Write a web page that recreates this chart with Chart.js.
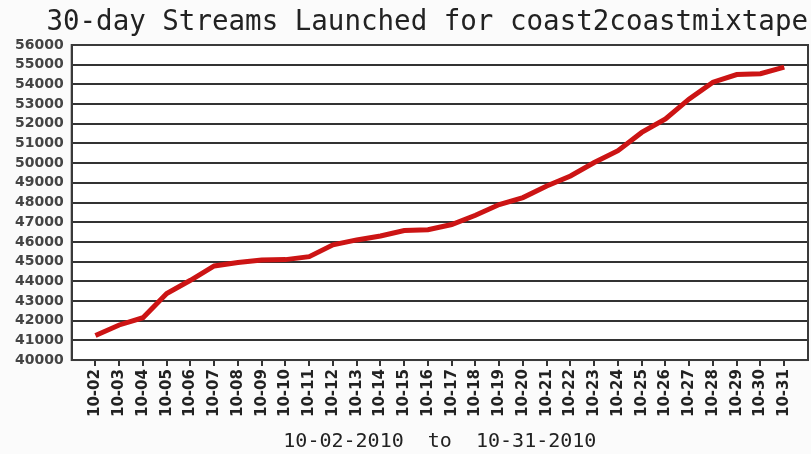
<!DOCTYPE html>
<html><head><meta charset="utf-8">
<script src="https://cdn.jsdelivr.net/npm/chart.js@4/dist/chart.umd.min.js"></script>
<style>html,body{margin:0;padding:0;background:#fbfbfb;} #wrap{width:811px;height:454px;}</style>
</head><body><div id="wrap"><canvas id="c" width="811" height="454"></canvas></div>
<script>
const titleText = '30-day Streams Launched for coast2coastmixtape';
const rangeText = '10-02-2010  to  10-31-2010';
const dates = ['10-02','10-03','10-04','10-05','10-06','10-07','10-08','10-09','10-10','10-11',
  '10-12','10-13','10-14','10-15','10-16','10-17','10-18','10-19','10-20','10-21',
  '10-22','10-23','10-24','10-25','10-26','10-27','10-28','10-29','10-30','10-31'];
const streams = [41250, 41780, 42150, 43380, 44050, 44780, 44950, 45080, 45100, 45250,
  45850, 46100, 46300, 46580, 46620, 46880, 47350, 47900, 48250, 48840,
  49350, 50030, 50630, 51560, 52240, 53260, 54110, 54500, 54540, 54880];
const yMin = 40000, yMax = 56000, yStep = 1000;

const frame = {
  id: 'frame',
  beforeDraw(chart) {
    const {ctx, chartArea: a} = chart;
    ctx.save();
    ctx.fillStyle = '#ffffff';
    ctx.fillRect(a.left, a.top, a.right - a.left, a.bottom - a.top);
    ctx.restore();
  },
  beforeDatasetsDraw(chart) {
    const {ctx, chartArea: a} = chart;
    ctx.save();
    ctx.strokeStyle = '#3a3a3a';
    ctx.lineWidth = 2;
    ctx.strokeRect(a.left, a.top, a.right - a.left, a.bottom - a.top);
    ctx.restore();
  }
};

new Chart(document.getElementById('c'), {
  type: 'line',
  data: {
    datasets: [{
      data: streams.map((v, i) => ({x: i, y: v})),
      borderColor: '#cc1414',
      borderWidth: 5,
      pointRadius: 0,
      tension: 0,
      fill: false
    }]
  },
  options: {
    responsive: false,
    animation: false,
    layout: {padding: {left: 7, right: 3, top: 6, bottom: 0}},
    plugins: {
      legend: {display: false},
      tooltip: {enabled: false},
      title: {
        display: true, text: titleText, align: 'end', color: '#222',
        font: {family: 'DejaVu Sans Mono', size: 27.5, weight: 'normal'},
        padding: {top: 0, bottom: 6}
      }
    },
    scales: {
      x: {
        type: 'linear', min: -1, max: dates.length,
        afterBuildTicks(scale) { scale.ticks = dates.map((_, i) => ({value: i})); },
        grid: {drawOnChartArea: false, drawTicks: true, tickLength: 6, color: '#333', lineWidth: 2},
        border: {display: true, color: '#3a3a3a', width: 2},
        ticks: {
          autoSkip: false, minRotation: 90, maxRotation: 90, padding: 3, color: '#222',
          font: {family: 'DejaVu Sans', size: 15, weight: 'bold'},
          callback: (v) => dates[v] ?? ''
        },
        title: {
          display: true, text: rangeText, color: '#222',
          font: {family: 'DejaVu Sans Mono', size: 20, weight: 'normal'},
          padding: {top: 10, bottom: 0}
        }
      },
      y: {
        min: yMin, max: yMax,
        ticks: {stepSize: yStep, autoSkip: false, padding: 8, color: '#444',
          font: {family: 'DejaVu Sans', size: 14, weight: 'bold'},
          callback: (v) => String(v)},
        grid: {color: '#333', lineWidth: 2, drawTicks: false},
        border: {display: true, color: '#3a3a3a', width: 2}
      }
    }
  },
  plugins: [frame]
});
</script></body></html>
